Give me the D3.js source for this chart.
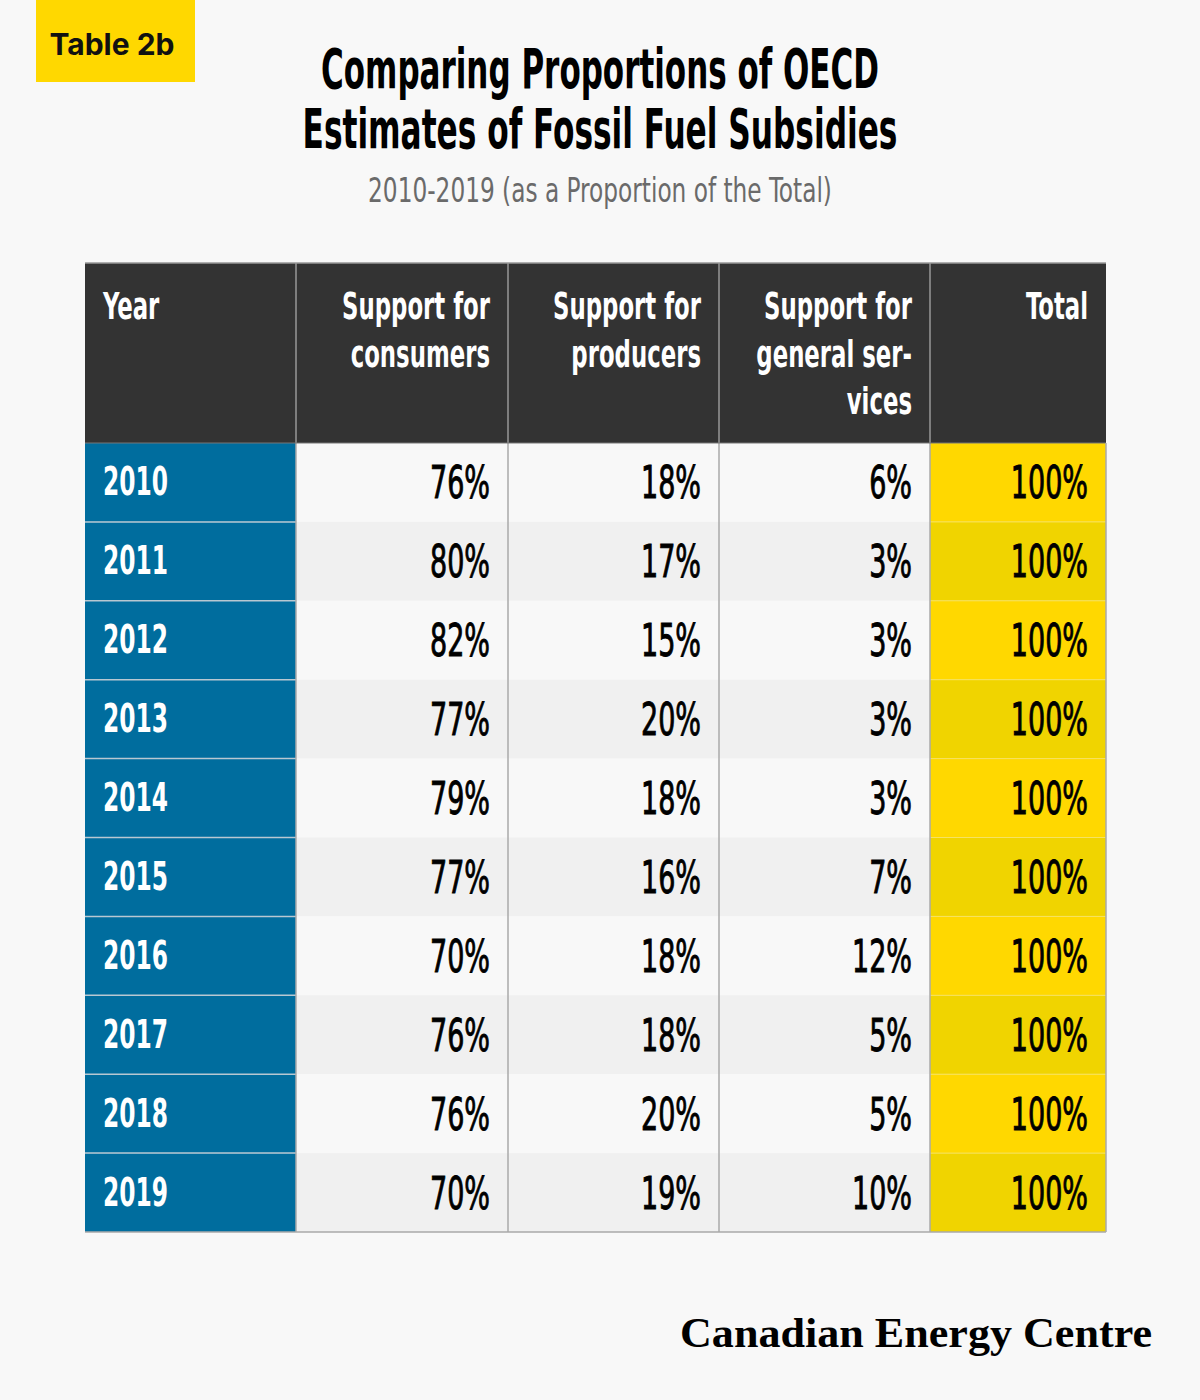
<!DOCTYPE html>
<html><head><meta charset="utf-8">
<script src="https://cdn.jsdelivr.net/npm/d3@7"></script>
<style>html,body{margin:0;padding:0;background:#f8f8f8;}svg{display:block;}</style>
</head><body>
<script>
const years = ["2010","2011","2012","2013","2014","2015","2016","2017","2018","2019"];
const consumers = [76,80,82,77,79,77,70,76,76,70];
const producers = [18,17,15,20,18,16,18,18,20,19];
const generalServices = [6,3,3,3,3,7,12,5,5,10];
const totals = [100,100,100,100,100,100,100,100,100,100];
const headers = [["Year"],["Support for","consumers"],["Support for","producers"],["Support for","general ser-","vices"],["Total"]];
const titleLines = ["Comparing Proportions of OECD","Estimates of Fossil Fuel Subsidies"];
const subtitle = "2010-2019 (as a Proportion of the Total)";
const badge = "Table 2b";
const source = "Canadian Energy Centre";

const W=1200,H=1400;
const svg=d3.select("body").append("svg").attr("width",W).attr("height",H);
svg.append("rect").attr("width",W).attr("height",H).attr("fill","#f8f8f8");

const cond='"Liberation Sans Narrow","DejaVu Sans Condensed","Roboto Condensed",sans-serif';

function fitScale(sample,size,weight,target){
  const t=svg.append("text").attr("font-family",cond).attr("font-weight",weight).attr("font-size",size).text(sample);
  const w=t.node().getComputedTextLength(); t.remove();
  return target/w;
}
function ctext(x,yy,txt,anchor,size,weight,fill,scale){
  return svg.append("text").attr("transform",`translate(${x},${yy}) scale(${scale},1)`)
   .attr("text-anchor",anchor).attr("font-family",cond).attr("font-weight",weight)
   .attr("font-size",size).attr("fill",fill).text(txt);
}

// badge
svg.append("rect").attr("x",36).attr("y",0).attr("width",159).attr("height",82).attr("fill","#ffd800");
svg.append("text").attr("x",112).attr("y",55).attr("text-anchor","middle")
  .attr("font-family","Inter, 'Noto Sans', sans-serif").attr("font-weight",700).attr("font-size",30)
  .attr("fill","#111").text(badge);

// title
const titleW=[558,595];
titleLines.forEach((t,i)=>{
  ctext(600,88+i*60,t,"middle",55,700,"#000",fitScale(t,55,700,titleW[i]));
});
ctext(600,202,subtitle,"middle",34,300,"#6a6a6a",fitScale(subtitle,34,300,464));

// table layout
const colWidths=[211,212,211,211,176];
const x0=85;
const colX=[x0];colWidths.forEach((w,i)=>colX.push(colX[i]+w));
const headTop=263, headBot=443, tableBot=1232;
const y=d3.scaleBand().domain(years).range([headBot,tableBot]);
const cols=[consumers,producers,generalServices,totals];

const sHead=fitScale("Support for",37,700,148);
const sYear=fitScale("2010",39,700,65);
const sVal=fitScale("76%",44,400,60);

svg.append("rect").attr("x",x0).attr("y",headTop).attr("width",colX[5]-x0).attr("height",headBot-headTop).attr("fill","#333");

years.forEach((yr,ri)=>{
  const yy=y(yr), h=y.bandwidth();
  svg.append("rect").attr("x",colX[0]).attr("y",yy).attr("width",colWidths[0]).attr("height",h).attr("fill","#006d9e");
  svg.append("rect").attr("x",colX[1]).attr("y",yy).attr("width",colX[4]-colX[1]).attr("height",h).attr("fill",ri%2?"#f0f0f0":"#f8f8f8");
  svg.append("rect").attr("x",colX[4]).attr("y",yy).attr("width",colWidths[4]).attr("height",h).attr("fill",ri%2?"#f0d400":"#ffd800");
});
years.slice(1).forEach(yr=>{
  svg.append("line").attr("x1",colX[0]).attr("x2",colX[1]).attr("y1",y(yr)).attr("y2",y(yr)).attr("stroke","#b8c8d2").attr("stroke-width",1.5);
  svg.append("line").attr("x1",colX[4]).attr("x2",colX[5]).attr("y1",y(yr)).attr("y2",y(yr)).attr("stroke","#f6e262").attr("stroke-width",1);
});
colX.slice(1,5).forEach(cx=>{
  svg.append("line").attr("x1",cx).attr("x2",cx).attr("y1",headTop).attr("y2",headBot).attr("stroke","#999").attr("stroke-width",1.5);
  svg.append("line").attr("x1",cx).attr("x2",cx).attr("y1",headBot).attr("y2",tableBot).attr("stroke","#aaa").attr("stroke-width",1.5);
});
svg.append("line").attr("x1",x0).attr("x2",colX[5]).attr("y1",headTop).attr("y2",headTop).attr("stroke","#999").attr("stroke-width",1.5);
svg.append("line").attr("x1",x0).attr("x2",colX[5]).attr("y1",tableBot).attr("y2",tableBot).attr("stroke","#aaa").attr("stroke-width",1.5);
svg.append("line").attr("x1",x0).attr("x2",colX[5]).attr("y1",headBot).attr("y2",headBot).attr("stroke","#777").attr("stroke-width",1);
svg.append("line").attr("x1",colX[5]).attr("x2",colX[5]).attr("y1",headBot).attr("y2",tableBot).attr("stroke","#aaa").attr("stroke-width",1.5);

headers.forEach((lines,ci)=>{
  lines.forEach((l,li)=>{
    if(ci===0) ctext(colX[0]+18,319+li*47.5,l,"start",37,700,"#fff",sHead);
    else ctext(colX[ci+1]-18,319+li*47.5,l,"end",37,700,"#fff",sHead);
  });
});

years.forEach((yr,ri)=>{
  const c=y(yr)+y.bandwidth()/2;
  ctext(colX[0]+18,c+13,yr,"start",39,700,"#fff",sYear);
  cols.forEach((arr,ci)=>{
    ctext(colX[ci+2]-18,c+16,arr[ri]+"%","end",44,400,"#000",sVal)
      .attr("stroke","#000").attr("stroke-width",0.9);
  });
});

svg.append("text").attr("x",1152).attr("y",1347).attr("text-anchor","end")
  .attr("font-family","'Liberation Serif','DejaVu Serif',serif").attr("font-weight",700)
  .attr("font-size",42).attr("fill","#000").attr("textLength",472).attr("lengthAdjust","spacingAndGlyphs").text(source);
</script>
</body></html>
